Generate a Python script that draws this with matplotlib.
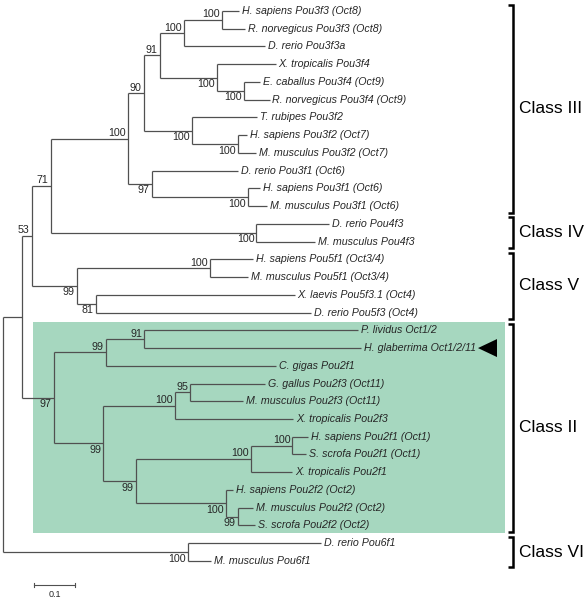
import re
import matplotlib
matplotlib.use("Agg")
import matplotlib.pyplot as plt
from matplotlib.patches import Rectangle, Polygon

plt.rcParams['font.family'] = ['Liberation Sans', 'DejaVu Sans']

# ---------------- data ----------------
# Newick tree: branch lengths (substitutions/site) and bootstrap support on internal nodes
class_iii = ("((((('H. sapiens Pou3f3 (Oct8)':0.041,'R. norvegicus Pou3f3 (Oct8)':0.056)100:0.093,"
             "'D. rerio Pou3f3a':0.198)100:0.059,"
             "('X. tropicalis Pou3f4':0.144,('E. caballus Pou3f4 (Oct9)':0.041,'R. norvegicus Pou3f4 (Oct9)':0.063)100:0.066)100:0.139)91:0.039,"
             "('T. rubipes Pou3f2':0.159,('H. sapiens Pou3f2 (Oct7)':0.024,'M. musculus Pou3f2 (Oct7)':0.046)100:0.112)100:0.117)90:0.039,"
             "('D. rerio Pou3f1 (Oct6)':0.210,('H. sapiens Pou3f1 (Oct6)':0.029,'M. musculus Pou3f1 (Oct6)':0.046)100:0.234)97:0.059)100:0.188")
class_iv = "('D. rerio Pou4f3':0.176,'M. musculus Pou4f3':0.144)100:0.502"
class_v = ("(('H. sapiens Pou5f1 (Oct3/4)':0.105,'M. musculus Pou5f1 (Oct3/4)':0.093)100:0.324,"
           "('X. laevis Pou5f3.1 (Oct4)':0.485,'D. rerio Pou5f3 (Oct4)':0.524)81:0.046)99:0.110")
class_ii = ("((('P. lividus Oct1/2':0.522,'H. glaberrima Oct1/2/11':0.529)91:0.093,'C. gigas Pou2f1':0.415)99:0.127,"
            "((('G. gallus Pou2f3 (Oct11)':0.183,'M. musculus Pou2f3 (Oct11)':0.129)95:0.037,'X. tropicalis Pou2f3':0.288)100:0.176,"
            "((('H. sapiens Pou2f1 (Oct1)':0.037,'S. scrofa Pou2f1 (Oct1)':0.034)100:0.102,'X. tropicalis Pou2f1':0.102)100:0.280,"
            "('H. sapiens Pou2f2 (Oct2)':0.017,('M. musculus Pou2f2 (Oct2)':0.037,'S. scrofa Pou2f2 (Oct2)':0.041)99:0.029)100:0.220)99:0.080)99:0.120)97:0.078")
class_vi = "('D. rerio Pou6f1':0.324,'M. musculus Pou6f1':0.056)100:0.451"

newick = "((((" + class_iii + "," + class_iv + ")71:0.046," + class_v + ")53:0.024," + class_ii + "):0.046," + class_vi + ");"

class_names = ["Class III", "Class IV", "Class V", "Class II", "Class VI"]
class_first_leaf = [0, 12, 14, 18, 30]
class_last_leaf = [11, 13, 17, 29, 31]
highlight_leaves = (18, 29)
arrow_leaf = 'H. glaberrima Oct1/2/11'
scale_length = 0.1


# ---------------- parse ----------------
def parse_newick(s):
    pos = 0
    n_max = len(s)

    def node():
        nonlocal pos
        children = []
        if s[pos] == '(':
            pos += 1
            while True:
                if pos >= n_max or len(children) > 100:
                    raise ValueError("bad newick")
                children.append(node())
                if s[pos] == ',':
                    pos += 1
                    continue
                if s[pos] == ')':
                    pos += 1
                    break
                raise ValueError("unexpected char %r at %d" % (s[pos], pos))
        if s[pos] == "'":
            end = s.index("'", pos + 1)
            name = s[pos + 1:end]
            pos = end + 1
        else:
            m = re.match(r"[^:,();]*", s[pos:])
            name = m.group(0)
            pos += len(name)
        bl = 0.0
        if pos < n_max and s[pos] == ':':
            m = re.match(r":([0-9.eE-]+)", s[pos:])
            bl = float(m.group(1))
            pos += len(m.group(0))
        return {'name': name, 'bl': bl, 'children': children}

    return node()


tree = parse_newick(newick)

leaves = []


def layout(n, x):
    n['x'] = x
    if not n['children']:
        n['y'] = len(leaves)
        leaves.append(n)
    else:
        for c in n['children']:
            layout(c, x + c['bl'])
        n['y'] = (n['children'][0]['y'] + n['children'][-1]['y']) / 2.0


layout(tree, 0.0)

# ---------------- figure ----------------
W, H = 586, 600
PXU = 410.0       # pixels per substitution unit
ROW = 17.74       # pixels per leaf row
X0, Y0 = 3.0, 11.0

fig = plt.figure(figsize=(W / 100, H / 100), dpi=100)
ax = fig.add_axes([0, 0, 1, 1])
ax.set_xlim(-X0 / PXU, (W - X0) / PXU)
ax.set_ylim((H - Y0) / ROW, -Y0 / ROW)
ax.axis('off')


def px(dx):
    return dx / PXU


def py(dy):
    return dy / ROW


line_col = '#505050'
text_col = '#262626'
LW = 0.9
FS = 7.7

# highlight box
y_top = highlight_leaves[0] - py(8)
y_bot = highlight_leaves[1] + py(8)
ax.add_patch(Rectangle((px(30), y_top), px(472), y_bot - y_top,
                       facecolor='#a6d7bf', edgecolor='none', zorder=0))


def draw(n, position=None):
    if n['children']:
        ys = [c['y'] for c in n['children']]
        ax.plot([n['x'], n['x']], [min(ys), max(ys)], color=line_col, lw=LW,
                solid_capstyle='butt', zorder=2)
        nc = len(n['children'])
        for i, c in enumerate(n['children']):
            ax.plot([n['x'], c['x']], [c['y'], c['y']], color=line_col, lw=LW,
                    solid_capstyle='butt', zorder=2)
            pos = 'upper' if i == 0 else ('lower' if i == nc - 1 else 'mid')
            draw(c, pos)
        if n['name'] and position is not None:
            if position == 'upper':
                ax.text(n['x'] - px(2), n['y'] - py(2.5), n['name'], ha='right',
                        va='baseline', fontsize=FS, color=text_col, zorder=3)
            else:
                ax.text(n['x'] - px(2), n['y'] + py(1.5), n['name'], ha='right',
                        va='top', fontsize=FS, color=text_col, zorder=3)
    else:
        ax.text(n['x'] + px(3), n['y'], n['name'], ha='left', va='center',
                fontsize=FS, style='italic', color=text_col, zorder=3)


draw(tree)

# arrow marker for H. glaberrima
for lf in leaves:
    if lf['name'] == arrow_leaf:
        ya = lf['y']
        ax.add_patch(Polygon([(px(478 - X0), ya), (px(497 - X0), ya - py(9)),
                              (px(497 - X0), ya + py(9))],
                             closed=True, facecolor='black', edgecolor='none', zorder=4))

# class brackets
bx = px(513 - X0)
for name, a, b in zip(class_names, class_first_leaf, class_last_leaf):
    ya, yb = a - py(6.5), b + py(6.5)
    ax.plot([bx - px(5), bx, bx, bx - px(5)], [ya, ya, yb, yb], color='black', lw=1.8,
            solid_joinstyle='miter', solid_capstyle='butt', zorder=3)
    ax.text(px(519 - X0), (ya + yb) / 2, name, ha='left', va='center', fontsize=12.5,
            color='black')

# scale bar
sx0 = px(34 - X0)
sy = py(585 - Y0)
ax.plot([sx0, sx0 + scale_length], [sy, sy], color=line_col, lw=0.8)
for xx in (sx0, sx0 + scale_length):
    ax.plot([xx, xx], [sy - py(2), sy + py(2)], color=line_col, lw=0.8)
ax.text(sx0 + scale_length / 2, sy + py(5), f"{scale_length:g}", ha='center', va='top',
        fontsize=6.5, color=text_col)

fig.savefig('out.png', dpi=100)
